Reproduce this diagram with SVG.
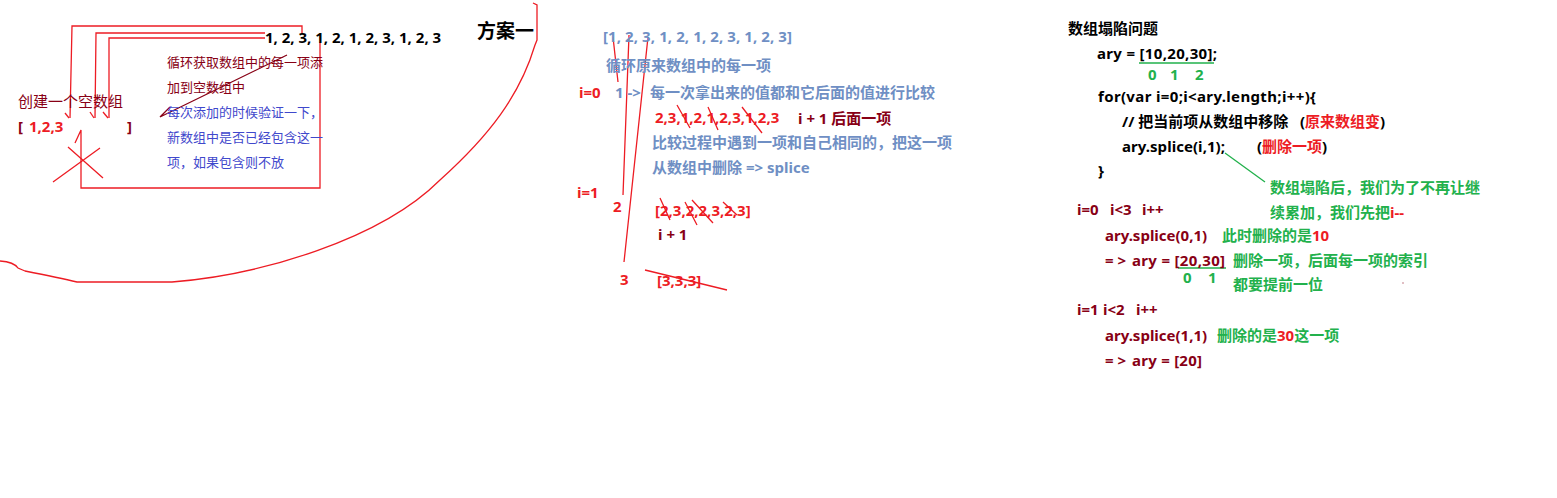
<svg xmlns="http://www.w3.org/2000/svg" width="1557" height="498" viewBox="0 0 1557 498">
<style>
text{font-family:"Noto Sans","Noto Sans CJK SC",sans-serif;font-size:15px}
.s13{font-size:13px}
.b{font-weight:bold}
.red{fill:#ed1c24}
.dr{fill:#880015}
.bl{fill:#3f48cc}
.sb{fill:#6f8fc4}
.gr{fill:#22b14c}
.k{fill:#000}
.lr{stroke:#ed1c24;stroke-width:1.3;fill:none}
.ld{stroke:#880015;stroke-width:1.3;fill:none}
.lg{stroke:#22b14c;stroke-width:1.3;fill:none}
</style>
<rect width="1557" height="498" fill="#fff"/>
<g id="connectors">
  <path class="lr" d="M70,118 L72,26 L302,26 L302,34"/>
  <path class="lr" d="M65,113 L69,118"/>
  <path class="lr" d="M95,118 L96,33 L265,33"/>
  <path class="lr" d="M90,112 L94,118"/>
  <path class="lr" d="M109,118 L109,38 L265,38"/>
  <path class="lr" d="M103,112 L108,118"/>
  <path class="lr" d="M75,143 L81,130 L81,188 L320,188 L320,42"/>
  <path class="lr" d="M68,147 L103,178 M53,182 L100,148"/>
  <path class="ld" d="M160,117 L287,55 M160,117 L170,107"/>
  <path class="lr" d="M0,261 Q14,262 18,268 L25,271 Q60,278 77,282 L172,282 C260,275 380,240 440,180 C490,135 520,95 535,45 L537,40 L537,5 L533,3"/>
  <path class="lr" d="M613,37 L618,82 M629,35 L623,195 M648,37 L624,262"/>
  <path class="lr" d="M677,105 L690,128 M708,107 L718,130 M742,107 L762,133"/>
  <path class="lr" d="M660,198 L670,220 M685,202 L697,225 M692,200 L713,223 M723,202 L737,215"/>
  <path class="lr" d="M645,270 L727,290"/>
  <path class="lg" d="M1139,63 L1214,63 M1178,268 L1226,268 M1225,153 L1265,182"/>
  <rect x="1402.5" y="282.5" width="1" height="1" fill="#880015"/>
</g>
<g id="left-create">
  <text x="18" y="107" class="dr">创建一个空数组</text>
  <text x="18" y="132" class="b dr">[</text>
  <text x="29" y="132" class="b red">1,2,3</text>
  <text x="127" y="132" class="b dr">]</text>
</g>
<g id="left-loop">
  <text x="167" y="67" class="s13 dr">循环获取数组中的每一项添</text>
  <text x="167" y="92" class="s13 dr">加到空数组中</text>
  <text x="167" y="117" class="s13 bl">每次添加的时候验证一下，</text>
  <text x="167" y="142" class="s13 bl">新数组中是否已经包含这一</text>
  <text x="167" y="167" class="s13 bl">项，如果包含则不放</text>
</g>
<g id="left-array">
  <text x="265" y="43" class="b k">1, 2, 3, 1, 2, 1, 2, 3, 1, 2, 3</text>
</g>
<g id="title-plan">
  <text x="477" y="38" class="b k" style="font-size:19px">方案一</text>
</g>
<g id="middle">
  <text x="603" y="42" class="b sb" textLength="189">[1, 2, 3, 1, 2, 1, 2, 3, 1, 2, 3]</text>
  <text x="606" y="71" class="b sb">循环原来数组中的每一项</text>
  <text x="579" y="98" class="b red">i=0</text>
  <text x="615" y="98" class="b sb">1 -&gt;</text>
  <text x="650" y="98" class="b sb">每一次拿出来的值都和它后面的值进行比较</text>
  <text x="655" y="123" class="b red">2,3,1,2,1,2,3,1,2,3</text>
  <text x="798" y="124" class="b dr">i + 1 后面一项</text>
  <text x="652" y="148" class="b sb">比较过程中遇到一项和自己相同的，把这一项</text>
  <text x="652" y="173" class="b sb">从数组中删除 =&gt; splice</text>
  <text x="577" y="198" class="b red">i=1</text>
  <text x="613" y="212" class="b red">2</text>
  <text x="655" y="216" class="b red">[2,3,2,2,3,2,3]</text>
  <text x="658" y="240" class="b dr">i + 1</text>
  <text x="620" y="285" class="b red">3</text>
  <text x="657" y="286" class="b red">[3,3,3]</text>
</g>
<g id="right-code">
  <text x="1068" y="34" class="b k">数组塌陷问题</text>
  <text x="1097" y="59" class="b k" textLength="120">ary = [10,20,30];</text>
  <text y="80" class="b gr"><tspan x="1148">0</tspan><tspan x="1170">1</tspan><tspan x="1195">2</tspan></text>
  <text x="1098" y="102" class="b k" textLength="218">for(var i=0;i&lt;ary.length;i++){</text>
  <text x="1122" y="127" class="b k">// 把当前项从数组中移除</text>
  <text x="1300" y="127" class="b k">(<tspan class="red">原来数组变</tspan>)</text>
  <text x="1122" y="152" class="b k" textLength="103">ary.splice(i,1);</text>
  <text x="1257" y="152" class="b k">(<tspan class="red">删除一项</tspan>)</text>
  <text x="1098" y="176" class="b k">}</text>
</g>
<g id="right-note">
  <text x="1270" y="193" class="b gr">数组塌陷后，我们为了不再让继</text>
  <text x="1270" y="218" class="b gr">续累加，我们先把<tspan class="red">i--</tspan></text>
</g>
<g id="right-step1">
  <text y="215" class="b dr"><tspan x="1077">i=0</tspan><tspan x="1110">i&lt;3</tspan><tspan x="1142">i++</tspan></text>
  <text x="1105" y="241" class="b dr">ary.splice(0,1)</text>
  <text x="1222" y="241" class="b gr">此时删除的是<tspan class="red">10</tspan></text>
  <text x="1105" y="266" class="b dr" textLength="21">=&gt;</text>
  <text x="1132" y="266" class="b dr" textLength="93">ary = [20,30]</text>
  <text x="1233" y="266" class="b gr">删除一项，后面每一项的索引</text>
  <text y="283" class="b gr"><tspan x="1183">0</tspan><tspan x="1208">1</tspan></text>
  <text x="1233" y="290" class="b gr">都要提前一位</text>
</g>
<g id="right-step2">
  <text y="315" class="b dr"><tspan x="1077">i=1</tspan><tspan x="1103">i&lt;2</tspan><tspan x="1136">i++</tspan></text>
  <text x="1105" y="341" class="b dr">ary.splice(1,1)</text>
  <text x="1217" y="341" class="b gr">删除的是<tspan class="red">30</tspan>这一项</text>
  <text x="1105" y="366" class="b dr" textLength="21">=&gt;</text>
  <text x="1132" y="366" class="b dr" textLength="70">ary = [20]</text>
</g>
</svg>
